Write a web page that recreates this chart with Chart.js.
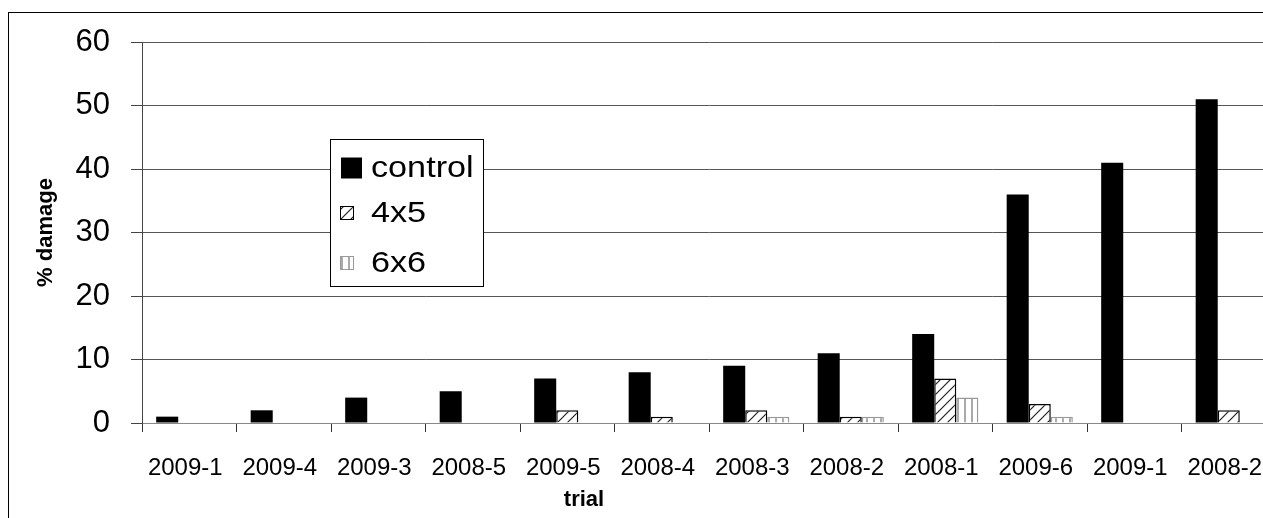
<!DOCTYPE html>
<html>
<head>
<meta charset="utf-8">
<title>% damage by trial</title>
<script src="https://cdn.jsdelivr.net/npm/chart.js@4/dist/chart.umd.min.js"></script>
<style>
  html, body { margin: 0; padding: 0; background: #fff; overflow: hidden; }
  #wrap { position: relative; width: 1290px; height: 518px; }
</style>
</head>
<body>
<div id="wrap"><canvas id="chart" width="1290" height="518"></canvas></div>
<script>
// Trial labels along the x axis
const categories = ['2009-1', '2009-4', '2009-3', '2008-5', '2009-5', '2008-4',
                    '2008-3', '2008-2', '2008-1', '2009-6', '2009-1', '2008-2'];

// % damage per treatment
const controlValues = [1, 2, 4, 5, 7, 8, 9, 11, 14, 36, 41, 51];
const spacing4x5Values = [0, 0, 0, 0, 2, 1, 2, 1, 7, 3, 0, 2];
const spacing6x6Values = [0, 0, 0, 0, 0, 0, 1, 1, 4, 1, 0, 0];

// Y axis ticks
const yTicks = [0, 10, 20, 30, 40, 50, 60];

const FONT = '"Liberation Sans", Arial, Helvetica, sans-serif';

// Fill patterns for the two spacing treatments
function diagonalPattern() {
  const c = document.createElement('canvas');
  c.width = 10; c.height = 10;
  const g = c.getContext('2d');
  g.fillStyle = '#fff';
  g.fillRect(0, 0, 10, 10);
  g.strokeStyle = '#222';
  g.lineWidth = 1.2;
  g.beginPath();
  g.moveTo(-1, 11); g.lineTo(11, -1);
  g.moveTo(-1, 1); g.lineTo(1, -1);
  g.moveTo(9, 11); g.lineTo(11, 9);
  g.stroke();
  return g.createPattern(c, 'repeat');
}
function verticalPattern() {
  const c = document.createElement('canvas');
  c.width = 7; c.height = 7;
  const g = c.getContext('2d');
  g.fillStyle = '#fff';
  g.fillRect(0, 0, 7, 7);
  g.fillStyle = '#aaa';
  g.fillRect(5, 0, 2, 7);
  return g.createPattern(c, 'repeat');
}
const pat4x5 = diagonalPattern();
const pat6x6 = verticalPattern();

// Outer frame, free-standing legend box and x axis title
const decorations = {
  id: 'decorations',
  afterDraw(chart) {
    const ctx = chart.ctx;
    ctx.save();
    ctx.strokeStyle = '#000';
    ctx.lineWidth = 1;
    ctx.strokeRect(8.5, 12.5, 3000, 3000);

    // legend box
    const bx = 330.5, by = 139.5, bw = 153, bh = 147;
    ctx.fillStyle = '#fff';
    ctx.fillRect(bx, by, bw, bh);
    ctx.strokeStyle = '#000';
    ctx.strokeRect(bx, by, bw, bh);

    const ds = chart.data.datasets;
    const rows = [168, 213, 263];
    ds.forEach((d, i) => {
      const cy = rows[i];
      if (i === 0) {
        ctx.fillStyle = d.backgroundColor;
        ctx.fillRect(341, cy - 10.5, 21, 21);
      } else {
        ctx.fillStyle = d.backgroundColor;
        ctx.fillRect(341, cy - 6, 12, 12);
        ctx.strokeStyle = d.borderColor;
        ctx.lineWidth = 1;
        ctx.strokeRect(340.5, cy - 6.5, 13, 13);
      }
      ctx.save();
      ctx.translate(371, cy);
      ctx.scale(1.14, 1);
      ctx.fillStyle = '#000';
      ctx.font = '30px ' + FONT;
      ctx.textBaseline = 'middle';
      ctx.textAlign = 'left';
      ctx.fillText(d.label, 0, 1);
      ctx.restore();
    });

    // x axis title
    ctx.fillStyle = '#000';
    ctx.font = 'bold 22px ' + FONT;
    ctx.textAlign = 'center';
    ctx.textBaseline = 'middle';
    ctx.fillText('trial', 584, 500);
    ctx.restore();
  }
};

new Chart(document.getElementById('chart'), {
  type: 'bar',
  data: {
    labels: categories,
    datasets: [
      { label: 'control', data: controlValues, backgroundColor: '#000', borderWidth: 0 },
      { label: '4x5', data: spacing4x5Values, backgroundColor: pat4x5, borderColor: '#000', borderWidth: 1.5, borderSkipped: 'start' },
      { label: '6x6', data: spacing6x6Values, backgroundColor: pat6x6, borderColor: '#999', borderWidth: 1.5, borderSkipped: 'start' }
    ]
  },
  options: {
    responsive: false,
    animation: false,
    devicePixelRatio: 1,
    layout: { padding: { left: 0, top: 42, right: 14, bottom: 0 } },
    datasets: { bar: { categoryPercentage: 0.7, barPercentage: 1.0 } },
    plugins: { legend: { display: false }, tooltip: { enabled: false } },
    scales: {
      x: {
        offset: true,
        afterFit(scale) { scale.height = 95; },
        grid: { offset: true, drawOnChartArea: false, drawTicks: true, tickLength: 9, color: '#333', lineWidth: 1 },
        border: { display: true, color: '#888', width: 1 },
        ticks: { color: '#000', font: { family: FONT, size: 24 }, padding: 22, labelOffset: -4, maxRotation: 0, autoSkip: false }
      },
      y: {
        min: 0, max: 60,
        afterFit(scale) { scale.width = 142; },
        afterBuildTicks(scale) { scale.ticks = yTicks.map(v => ({ value: v })); },
        grid: { color: '#555', lineWidth: 1, drawTicks: true, tickLength: 11, tickColor: '#444' },
        border: { display: true, color: '#444', width: 1 },
        ticks: { color: '#000', font: { family: FONT, size: 31 }, padding: 21 },
        title: { display: true, text: '% damage', color: '#000', font: { family: FONT, size: 22, weight: 'bold' }, padding: { top: 33, bottom: 0 } }
      }
    }
  },
  plugins: [decorations]
});
</script>
</body>
</html>
